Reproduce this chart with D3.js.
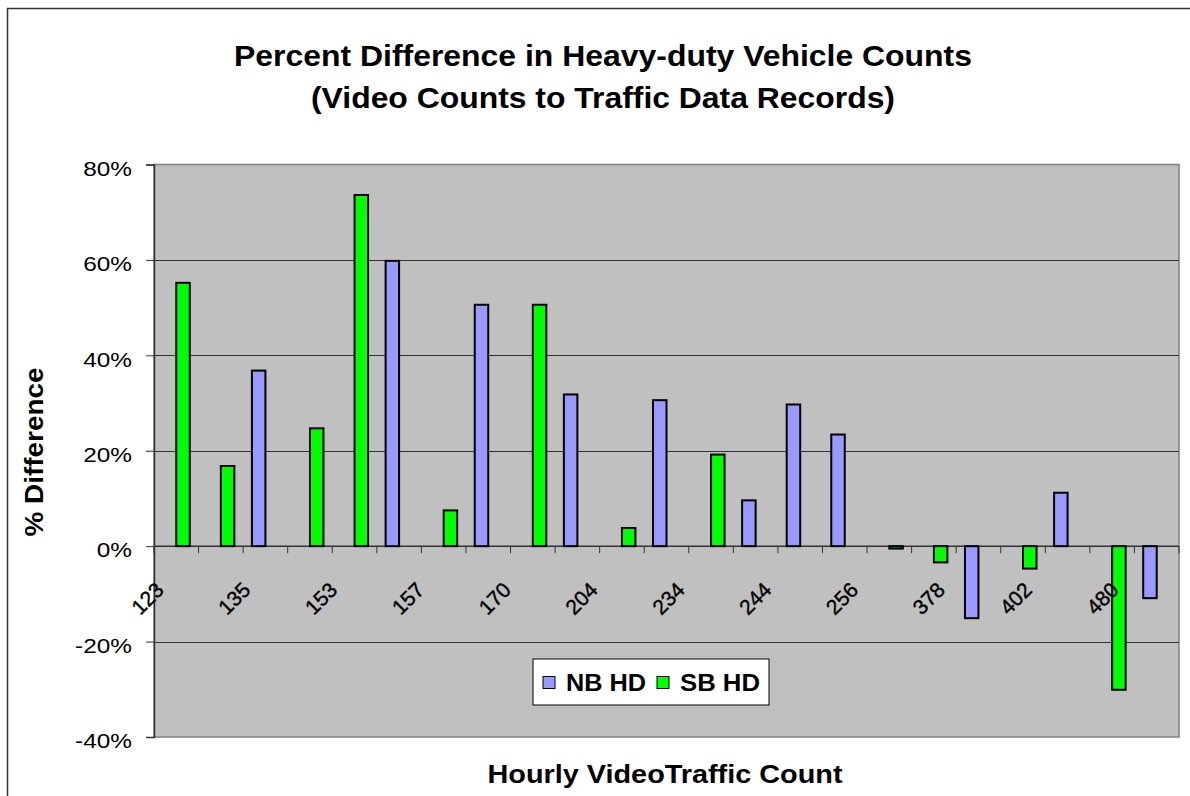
<!DOCTYPE html>
<html lang="en">
<meta charset="UTF-8">
<title>Percent Difference in Heavy-duty Vehicle Counts</title>
<script src="https://d3js.org/d3.v7.min.js"></script>
<style>
body { margin: 0; background: #fff; }
text { font-family: "Liberation Sans", Arial, sans-serif; fill: #000; }
.title { font-size: 30px; font-weight: bold; }
.axis-title { font-size: 25px; font-weight: bold; }
.ytick { font-size: 19.5px; }
.xtick { font-size: 21px; stroke: #000; stroke-width: 0.4px; }
.legend-text { font-size: 23px; font-weight: bold; }
</style>
<body>
<svg width="1190" height="796"></svg>
<script>
// 23 hourly count buckets, only every other one is labelled on the axis
const tickLabels = ['123', '135', '153', '157', '170', '204', '234', '244', '256', '378', '402', '480'];
const categoryCount = 23;

// percent difference per bucket (null = no bar)
const nbHD = [null, null, 36.8, null, null, 59.8, null, 50.6, null, 31.8, null, 30.6,
  null, 9.6, 29.7, 23.4, null, null, -15.1, null, 11.2, null, -10.9];
const sbHD = [55.2, 16.8, null, 24.7, 73.6, null, 7.5, null, 50.6, null, 3.8, null,
  19.2, null, null, null, -0.5, -3.4, null, -4.7, null, -30.1, null];

const yTicks = [-40, -20, 0, 20, 40, 60, 80];
const seriesNames = ['NB HD', 'SB HD'];
const seriesColors = ['#9999ff', '#00ff00'];

const svg = d3.select('svg');

// the old chart renders its text noticeably wider than Arial, so stretch it
const widen = (sel, k) => sel.each(function () {
  this.setAttribute('textLength', this.getComputedTextLength() * k);
  this.setAttribute('lengthAdjust', 'spacingAndGlyphs');
});

// outer chart frame
svg.append('path')
    .attr('d', 'M7.5,796 V8.5 H1190')
    .attr('fill', 'none')
    .attr('stroke', '#333')
    .attr('stroke-width', 1.5);

const plot = { left: 154, right: 1179, top: 164.5, bottom: 737 };

const x = d3.scaleBand()
    .domain(d3.range(categoryCount))
    .range([plot.left, plot.right]);

const y = d3.scaleLinear()
    .domain([-40, 80])
    .range([plot.bottom, plot.top]);

const barW = 13.5;

// plot area
svg.append('rect')
    .attr('x', plot.left)
    .attr('y', plot.top)
    .attr('width', plot.right - plot.left)
    .attr('height', plot.bottom - plot.top)
    .attr('fill', '#c0c0c0')
    .attr('stroke', '#808080')
    .attr('stroke-width', 1.5);

// gridlines
svg.append('g')
  .selectAll('line').data(yTicks.filter(d => d > -40 && d < 80))
  .enter().append('line')
    .attr('x1', plot.left)
    .attr('x2', plot.right)
    .attr('y1', d => Math.round(y(d)) + 0.5)
    .attr('y2', d => Math.round(y(d)) + 0.5)
    .attr('stroke', '#333')
    .attr('stroke-width', 1);

// y axis
const yAxis = svg.append('g')
    .attr('transform', `translate(${plot.left},0)`)
    .call(d3.axisLeft(y).tickValues(yTicks).tickSize(8).tickPadding(14).tickFormat(d => d + '%'));
yAxis.attr('font-size', null).attr('font-family', null);
yAxis.select('.domain').attr('stroke', '#333').attr('stroke-width', 1.5);
yAxis.selectAll('.tick line').attr('stroke', '#333');
yAxis.selectAll('.tick text')
    .attr('class', 'ytick')
    .attr('dy', '0.55em')
    .attr('fill', '#000')
    .call(widen, 1.25);

// category ticks on the zero line
svg.append('g')
  .selectAll('line').data(d3.range(categoryCount + 1))
  .enter().append('line')
    .attr('x1', d => x.step() * d + plot.left)
    .attr('x2', d => x.step() * d + plot.left)
    .attr('y1', y(0))
    .attr('y2', y(0) + 7)
    .attr('stroke', '#333');

svg.append('line')
    .attr('x1', plot.left)
    .attr('x2', plot.right)
    .attr('y1', y(0))
    .attr('y2', y(0))
    .attr('stroke', '#333')
    .attr('stroke-width', 1.5);

// bars: NB to the left of the category centre, SB to the right
const series = [nbHD, sbHD];
series.forEach((vals, s) => {
  svg.append('g')
    .selectAll('rect').data(vals.map((v, i) => ({ v, i })).filter(d => d.v !== null))
    .enter().append('rect')
      .attr('x', d => x(d.i) + x.bandwidth() / 2 - (s === 0 ? barW : 0))
      .attr('y', d => Math.min(y(d.v), y(0)))
      .attr('width', barW)
      .attr('height', d => Math.max(Math.abs(y(d.v) - y(0)), 2))
      .attr('fill', seriesColors[s])
      .attr('stroke', '#000')
      .attr('stroke-width', 2);
});

// rotated x labels; Excel packs them a little tighter than the categories
const labelX = d3.scalePoint()
    .domain(tickLabels)
    .range([165, 1120]);

svg.append('g')
  .selectAll('text').data(tickLabels)
  .enter().append('text')
    .attr('class', 'xtick')
    .attr('text-anchor', 'end')
    .attr('transform', d => `translate(${labelX(d)},${y(0) + 45}) rotate(-45)`)
    .text(d => d);

// legend
const legend = svg.append('g').attr('transform', 'translate(533,659)');
legend.append('rect')
    .attr('width', 236)
    .attr('height', 46)
    .attr('fill', '#fff')
    .attr('stroke', '#000')
    .attr('stroke-width', 1);
const legendX = [10, 124];
seriesNames.forEach((name, i) => {
  legend.append('rect')
      .attr('x', legendX[i])
      .attr('y', 17.5)
      .attr('width', 12)
      .attr('height', 12)
      .attr('fill', seriesColors[i])
      .attr('stroke', '#000')
      .attr('stroke-width', 1);
  legend.append('text')
      .attr('class', 'legend-text')
      .attr('x', legendX[i] + 23)
      .attr('y', 32)
      .attr('textLength', 80)
      .attr('lengthAdjust', 'spacingAndGlyphs')
      .text(name);
});

// titles
svg.append('text')
    .attr('class', 'title')
    .attr('text-anchor', 'middle')
    .attr('x', 603)
    .attr('y', 66)
    .attr('textLength', 738)
    .attr('lengthAdjust', 'spacingAndGlyphs')
    .text('Percent Difference in Heavy-duty Vehicle Counts');
svg.append('text')
    .attr('class', 'title')
    .attr('text-anchor', 'middle')
    .attr('x', 603)
    .attr('y', 108)
    .attr('textLength', 584)
    .attr('lengthAdjust', 'spacingAndGlyphs')
    .text('(Video Counts to Traffic Data Records)');

svg.append('text')
    .attr('class', 'axis-title')
    .attr('text-anchor', 'middle')
    .attr('transform', 'translate(43,452) rotate(-90)')
    .attr('textLength', 169)
    .attr('lengthAdjust', 'spacingAndGlyphs')
    .text('% Difference');

svg.append('text')
    .attr('class', 'axis-title')
    .attr('text-anchor', 'middle')
    .attr('x', 665)
    .attr('y', 783)
    .attr('textLength', 355)
    .attr('lengthAdjust', 'spacingAndGlyphs')
    .text('Hourly VideoTraffic Count');
</script>
</body>
</html>
